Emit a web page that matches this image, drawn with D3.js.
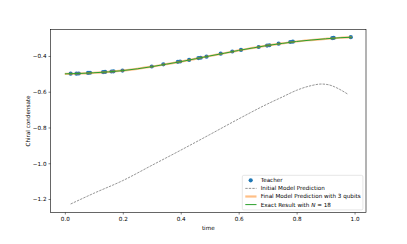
<!DOCTYPE html>
<html>
<head>
<meta charset="utf-8">
<script src="https://cdn.jsdelivr.net/npm/d3@7"></script>
<style>
  body { margin: 0; background: #fff; }
  svg { display: block; font-family: "DejaVu Sans", sans-serif; }
</style>
</head>
<body>
<div id="chart"></div>
<script>
// teacher samples (time, chiral condensate)
const teacherT = [0.020, 0.040, 0.048, 0.080, 0.087, 0.132, 0.139, 0.161, 0.168, 0.199,
    0.300, 0.340, 0.390, 0.398, 0.429, 0.461, 0.469, 0.489, 0.538, 0.578,
    0.608, 0.669, 0.698, 0.706, 0.738, 0.778, 0.787, 0.923, 0.928, 0.987];
const teacherY = [-0.499, -0.499, -0.498, -0.495, -0.494, -0.490, -0.489, -0.487, -0.486, -0.482,
    -0.459, -0.447, -0.433, -0.431, -0.422, -0.412, -0.410, -0.404, -0.387, -0.375,
    -0.366, -0.350, -0.342, -0.340, -0.331, -0.322, -0.320, -0.300, -0.299, -0.295];

// exact result / final model prediction
const exactT = [0, 0.05, 0.1, 0.15, 0.2, 0.25, 0.3, 0.35, 0.4, 0.45, 0.5,
    0.55, 0.6, 0.65, 0.7, 0.75, 0.8, 0.85, 0.9, 0.95, 0.99];
const exactY = [-0.500, -0.498, -0.494, -0.489, -0.482, -0.472, -0.460, -0.446, -0.432, -0.416, -0.400,
    -0.385, -0.369, -0.355, -0.341, -0.330, -0.319, -0.311, -0.304, -0.298, -0.295];
const finalY = exactY.slice();

// initial model prediction
const initT = [0.02, 0.1, 0.2, 0.3, 0.4, 0.5, 0.6, 0.7, 0.75, 0.8, 0.85, 0.885, 0.91, 0.93, 0.95, 0.977];
const initY = [-1.228, -1.168, -1.097, -1.012, -0.927, -0.840, -0.752, -0.668, -0.630, -0.592, -0.566, -0.557, -0.561, -0.572, -0.588, -0.614];

const xTicks = [0, 0.2, 0.4, 0.6, 0.8, 1.0];
const yTicks = [-1.2, -1.0, -0.8, -0.6, -0.4];

const W = 407, H = 244;
const fs = 5.65;
const svg = d3.select("#chart").append("svg").attr("width", W).attr("height", H);

const x = d3.scaleLinear().domain([-0.0495, 1.0395]).range([50.5, 366]);
const y = d3.scaleLinear().domain([-1.2755, -0.252]).range([212.5, 29.5]);

const fmt = v => d3.format(".1f")(v).replace("-", "\u2212");

const gx = svg.append("g").attr("transform", `translate(0,${y.range()[0]})`)
    .call(d3.axisBottom(x).tickValues(xTicks).tickFormat(fmt).tickSize(2).tickPadding(2));
const gy = svg.append("g").attr("transform", `translate(${x.range()[0]},0)`)
    .call(d3.axisLeft(y).tickValues(yTicks).tickFormat(fmt).tickSize(2).tickPadding(2));
[gx, gy].forEach(g => {
    g.select(".domain").remove();
    g.selectAll("line").attr("stroke", "#000").attr("stroke-width", 0.5);
    g.selectAll("text").attr("font-size", fs).attr("fill", "#000").attr("font-family", "DejaVu Sans");
});

// lines
const toPts = (ts, ys) => ts.map((t, i) => [t, ys[i]]);
const line = d3.line().x(d => x(d[0])).y(d => y(d[1])).curve(d3.curveMonotoneX);

const plot = svg.append("g");
plot.selectAll("circle").data(toPts(teacherT, teacherY)).enter().append("circle")
    .attr("cx", d => x(d[0])).attr("cy", d => y(d[1])).attr("r", 2.1)
    .attr("fill", "#1f77b4");

plot.append("path").datum(toPts(initT, initY)).attr("d", line)
    .attr("fill", "none").attr("stroke", "#7a7a7a").attr("stroke-width", 0.8)
    .attr("stroke-dasharray", "2.4,1.1");
plot.append("path").datum(toPts(exactT, finalY)).attr("d", line)
    .attr("fill", "none").attr("stroke", "#ff7f0e").attr("stroke-opacity", 0.5).attr("stroke-width", 2.2);
plot.append("path").datum(toPts(exactT, exactY)).attr("d", line)
    .attr("fill", "none").attr("stroke", "#2ca02c").attr("stroke-width", 1);

// frame
svg.append("rect").attr("x", 50.5).attr("y", 29.5).attr("width", 315.5).attr("height", 183)
    .attr("fill", "none").attr("stroke", "#000").attr("stroke-width", 0.6);

// axis labels
svg.append("text").attr("x", 208.25).attr("y", 229.5).attr("text-anchor", "middle")
    .attr("font-size", fs).text("time");
svg.append("text").attr("transform", "translate(30,121) rotate(-90)").attr("text-anchor", "middle")
    .attr("font-size", fs).text("Chiral condensate");

// legend
const leg = svg.append("g").attr("transform", "translate(242.3,175.3)");
leg.append("rect").attr("width", 120.6).attr("height", 34.6).attr("rx", 1.5)
    .attr("fill", "#fff").attr("fill-opacity", 0.8).attr("stroke", "#ccc").attr("stroke-width", 0.5);
const rows = [
    { label: "Teacher", kind: "dot" },
    { label: "Initial Model Prediction", kind: "dash" },
    { label: "Final Model Prediction with 3 qubits", kind: "orange" },
    { label: "Exact Result with ", kind: "green" }
];
rows.forEach((r, i) => {
    const cy = 5 + i * 8.1;
    if (r.kind === "dot") {
        leg.append("circle").attr("cx", 8.4).attr("cy", cy).attr("r", 2.1).attr("fill", "#1f77b4");
    } else {
        const ln = leg.append("line").attr("x1", 3).attr("x2", 14.2).attr("y1", cy).attr("y2", cy);
        if (r.kind === "dash") ln.attr("stroke", "#7a7a7a").attr("stroke-width", 0.8).attr("stroke-dasharray", "2.4,1.1");
        if (r.kind === "orange") ln.attr("stroke", "#ff7f0e").attr("stroke-opacity", 0.5).attr("stroke-width", 2.2);
        if (r.kind === "green") ln.attr("stroke", "#2ca02c").attr("stroke-width", 1);
    }
    const t = leg.append("text").attr("x", 18.4).attr("y", cy + 2).attr("font-size", fs).text(r.label);
    if (r.kind === "green") {
        t.append("tspan").attr("font-style", "italic").text("N");
        t.append("tspan").text(" = 18");
    }
});
</script>
</body>
</html>
